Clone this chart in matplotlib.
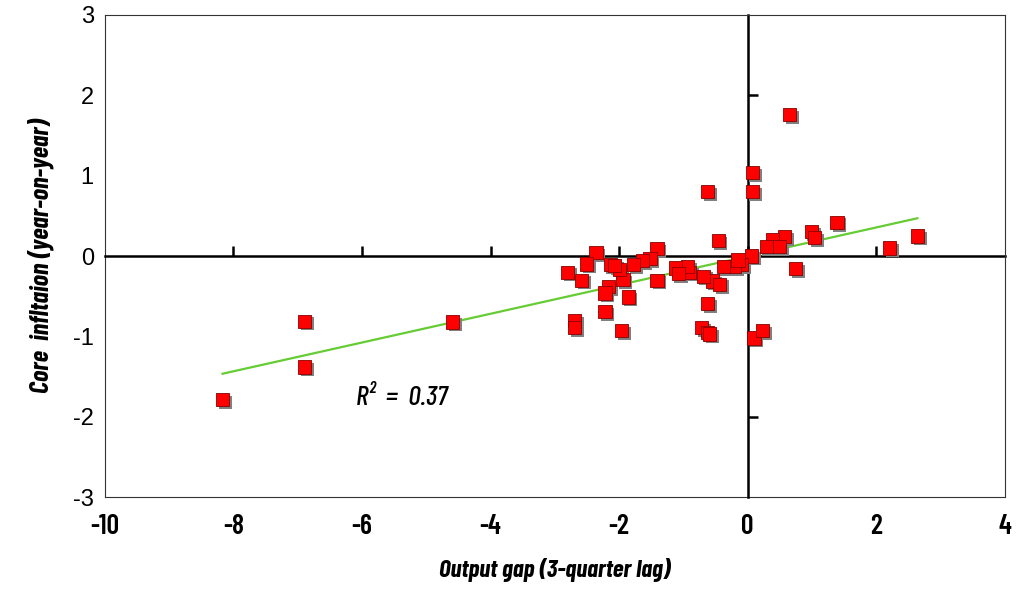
import numpy as np
import matplotlib
matplotlib.use('Agg')
import matplotlib.pyplot as plt
import matplotlib.patheffects as pe

# 产出缺口 (滞后3个季度) 与核心通胀
output_gap = [-8.17, -6.89, -6.89, -4.59,
              0.08, 0.08, -0.62, 1.39, 0.99, 1.04, 2.64, 2.21, 0.57, 0.39,
              0.29, 0.50, 0.06, -0.09, -0.20, -0.38, -0.15, -0.46, 0.75,
              -0.62, -0.72, -0.62, -0.59, 0.10, 0.23, -0.55, -0.44, -0.69,
              -0.91, -0.93, -1.12, -1.08, -1.41, -1.41, -1.52, -1.63, -1.77,
              -1.86, -1.94, -1.99, -2.14, -2.07, -1.96, -2.16, -2.22, -2.22,
              -2.36, -2.51, -2.58, -2.80, -2.69, -2.69, 0.65]
core_inflation = [-1.79, -0.81, -1.38, -0.82,
                  1.04, 0.80, 0.80, 0.42, 0.30, 0.23, 0.25, 0.10, 0.24, 0.21,
                  0.12, 0.12, 0.00, -0.11, -0.13, -0.13, -0.05, 0.19, -0.16,
                  -0.59, -0.89, -0.95, -0.97, -1.02, -0.93, -0.31, -0.35, -0.25,
                  -0.20, -0.13, -0.15, -0.22, 0.09, -0.30, -0.03, -0.06, -0.11,
                  -0.51, -0.29, -0.17, -0.11, -0.12, -0.93, -0.38, -0.46, -0.69,
                  0.04, -0.10, -0.30, -0.20, -0.80, -0.89, 1.76]
r2_text = 'R² = 0.37'

x_ticks = list(range(-10, 5, 2))
y_ticks = list(range(-3, 4))

narrow = ['Barlow Condensed', 'DejaVu Sans']
plain = ['Liberation Sans', 'DejaVu Sans']

fig = plt.figure(figsize=(10.19, 5.94), dpi=100)
ax = fig.add_axes([0.103, 0.163, 0.883, 0.812])

x = np.array(output_gap)
y = np.array(core_inflation)

# 散点 (带阴影)
ax.scatter(x, y, marker='s', s=90, color='#FF0000', edgecolor='#8B0000',
           linewidth=0.6, zorder=4,
           path_effects=[pe.SimplePatchShadow(offset=(2, -2), shadow_rgbFace='#808080', alpha=1.0),
                         pe.Normal()])

# 趋势线
k, b = np.polyfit(x, y, 1)
xx = np.array([x.min(), x.max()])
ax.plot(xx, k * xx + b, color='#66CC33', linewidth=1.6, zorder=3)

ax.text(-6.1, -1.77, r2_text.replace(' ', '  '), fontsize=20, style='italic',
        weight='medium', family=narrow, va='center', ha='left')

ax.set_xlim(-10, 4)
ax.set_ylim(-3, 3)

# 坐标轴在零点
ax.spines['left'].set_position(('data', 0))
ax.spines['bottom'].set_position(('data', 0))
for s in ['left', 'bottom']:
    ax.spines[s].set_linewidth(1.8)
    ax.spines[s].set_color('black')
    ax.spines[s].set_zorder(2)
for s in ['top', 'right']:
    ax.spines[s].set_linewidth(0.8)
    ax.spines[s].set_color('#333333')
ax.set_xticks(x_ticks[1:-1])
ax.set_yticks(y_ticks[1:-1])
ax.tick_params(axis='both', direction='in', length=7, width=1.8,
               labelbottom=False, labelleft=False)

# 外框上的刻度标签
sx = ax.secondary_xaxis('bottom')
sx.set_xticks(x_ticks)
sx.set_xticklabels([str(v) for v in x_ticks], family=narrow, fontsize=20,
                   weight='semibold')
sx.tick_params(length=0, pad=12)
sx.spines['bottom'].set_linewidth(0.8)
sx.spines['bottom'].set_color('#333333')

sy = ax.secondary_yaxis('left')
sy.set_yticks(y_ticks)
sy.set_yticklabels([str(v) for v in y_ticks], fontsize=17, family=plain)
sy.tick_params(length=0, pad=8)
sy.spines['left'].set_linewidth(0.8)
sy.spines['left'].set_color('#333333')

sx.set_xlabel('Output gap (3-quarter lag)', fontsize=18, fontweight='bold',
              style='italic', family=narrow, labelpad=14)
sy.set_ylabel('Core  infltaion (year-on-year)', fontsize=19, fontweight='bold',
              style='italic', family=narrow, labelpad=14)

fig.savefig('out.png', dpi=100)
